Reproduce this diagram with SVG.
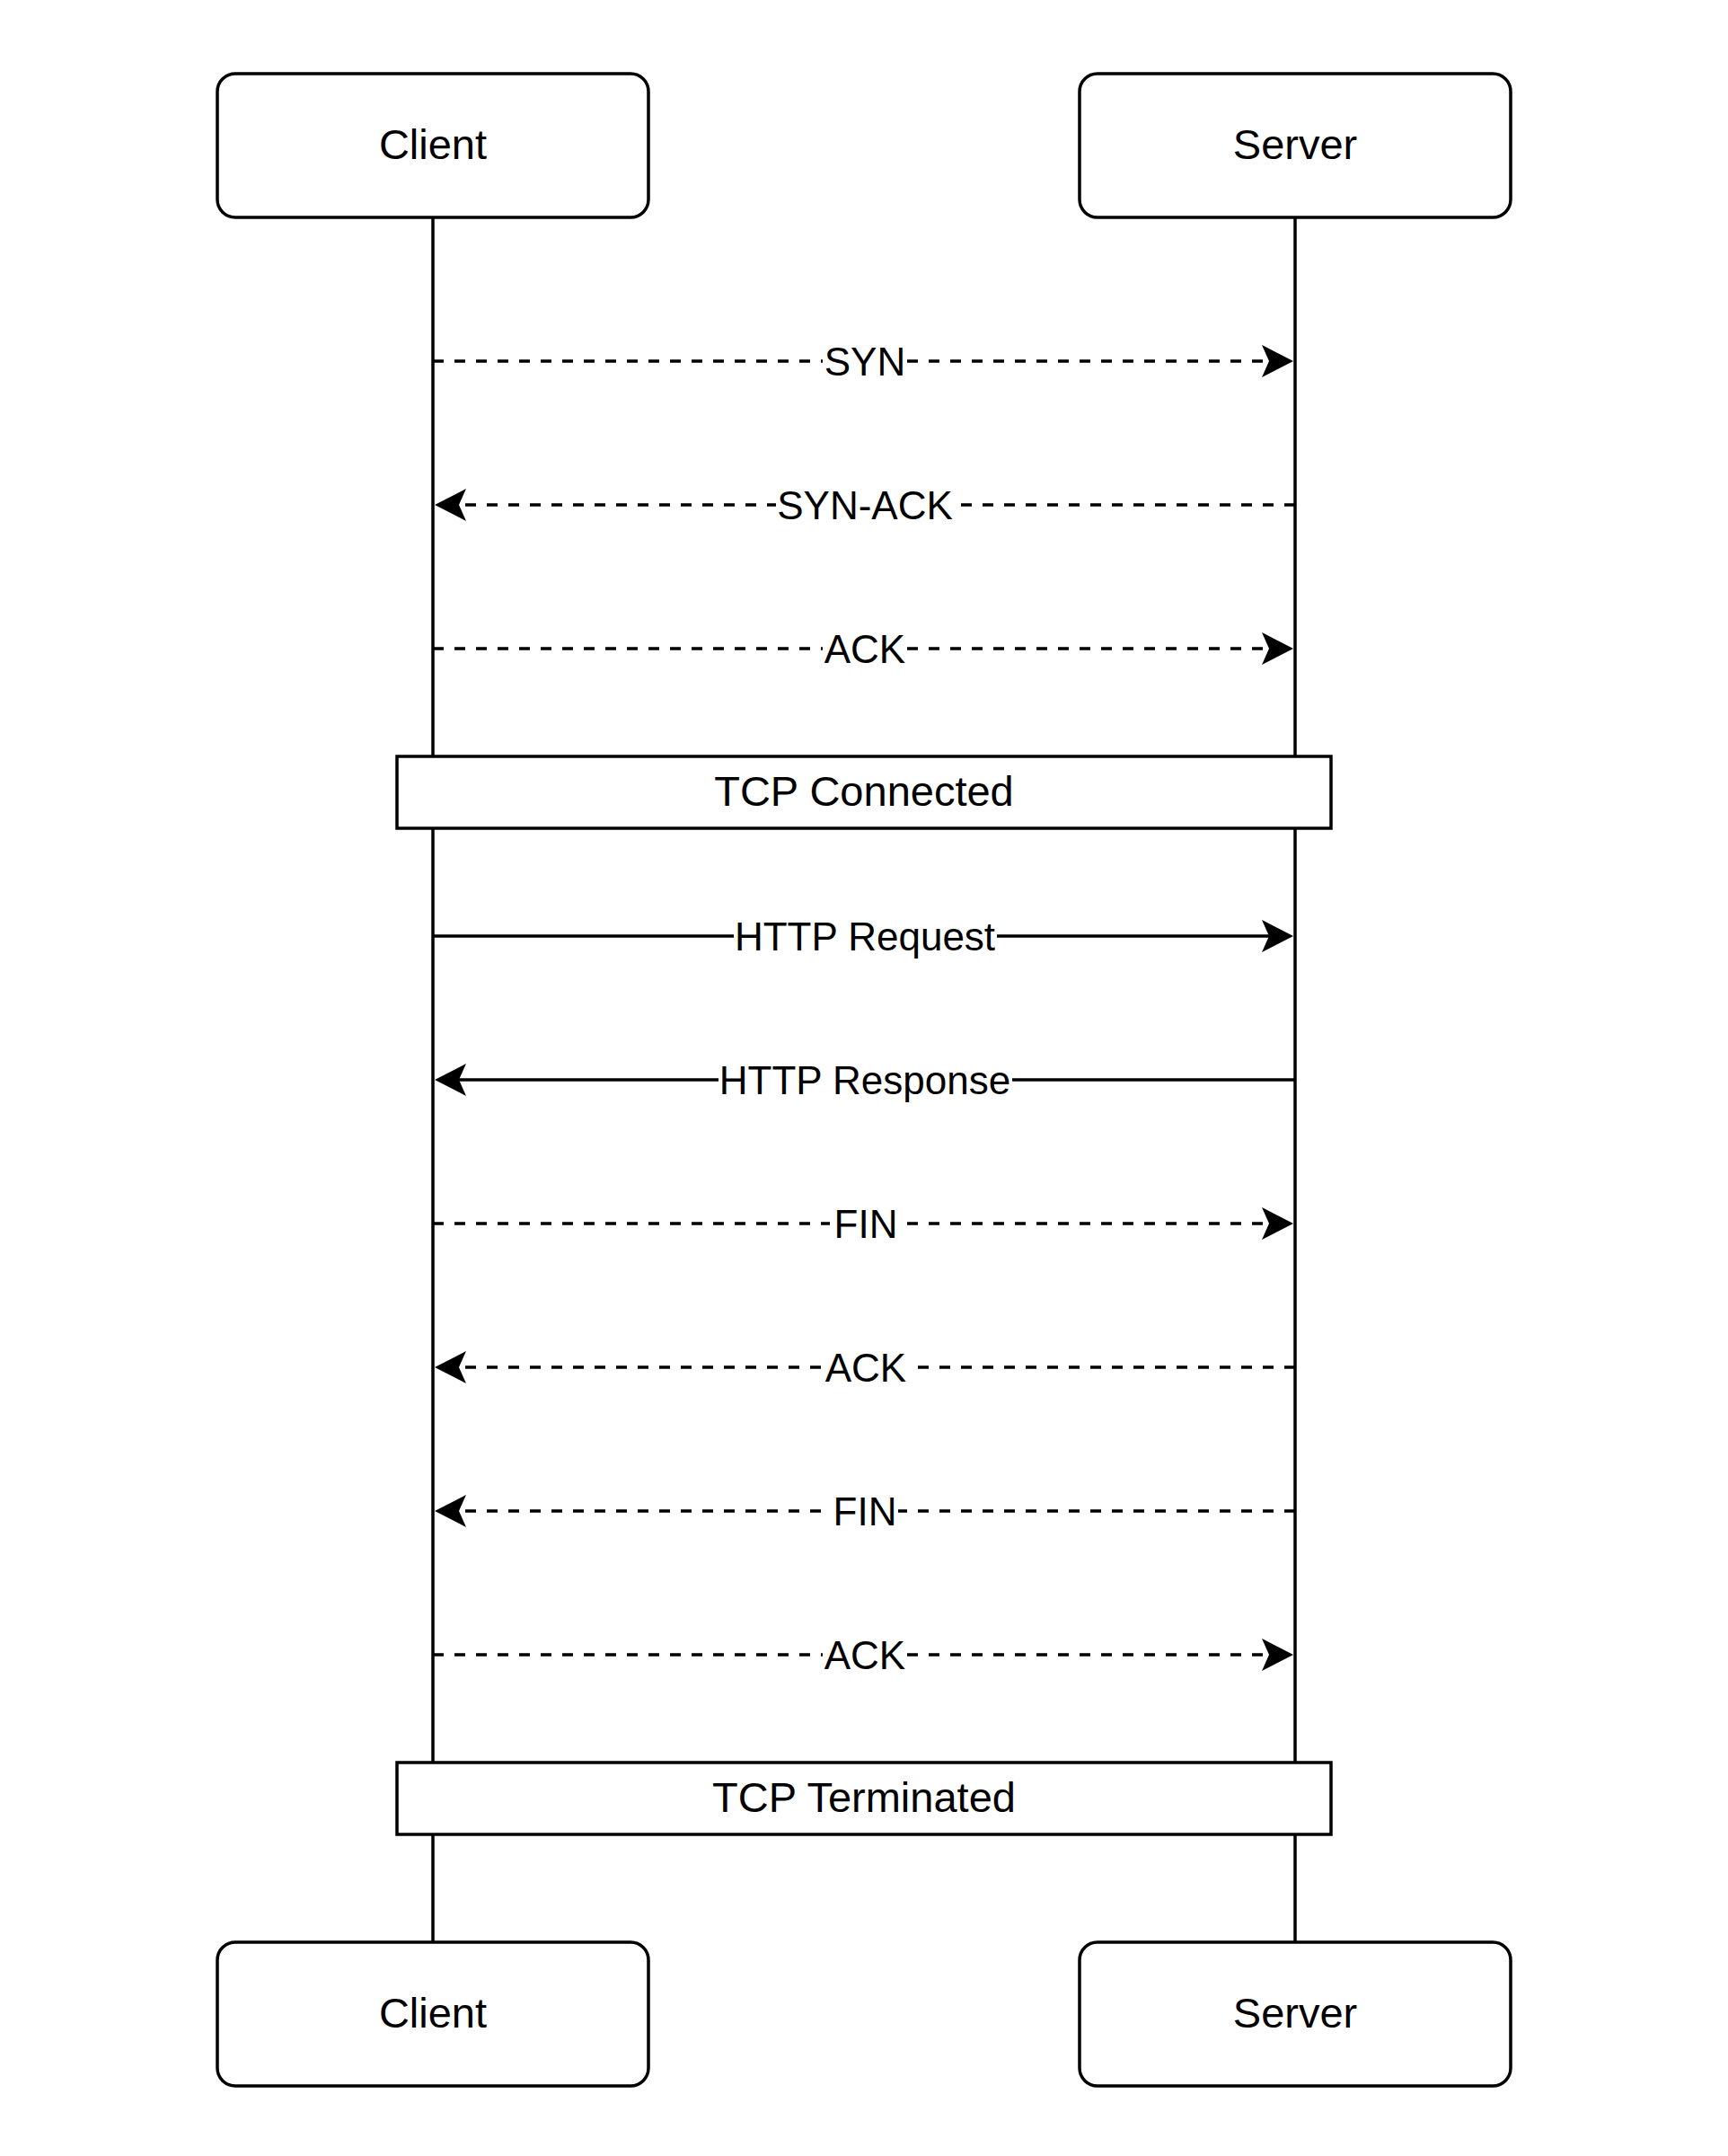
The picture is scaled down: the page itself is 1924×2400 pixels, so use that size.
<svg xmlns="http://www.w3.org/2000/svg" width="1924" height="2400" viewBox="0 0 1924 2400">
<style>
.bg{fill:#ffffff}
.actor{fill:#ffffff;stroke:#000000;stroke-width:3.5}
.state{fill:#ffffff;stroke:#000000;stroke-width:3.5}
.life{stroke:#000000;stroke-width:3.5;fill:none}
.msg{stroke:#000000;stroke-width:3.5;fill:none}
.dash{stroke-dasharray:12 12}
.lblbg{fill:#ffffff}
.t{font-family:"Liberation Sans",Arial,Helvetica,sans-serif;fill:#000000;text-anchor:middle}
.big{font-size:47px}
.lbl{font-size:44px}
</style>
<defs>
<marker id="arr" viewBox="0 -18 35 36" refX="8" refY="0" markerWidth="35" markerHeight="36" markerUnits="userSpaceOnUse" orient="auto">
<path d="M35,0 L0,-18 L8,0 L0,18 Z" fill="#000000"/>
</marker>
</defs>
<rect class="bg" x="0" y="0" width="1924" height="2400"/>
<g id="lifelines">
<line class="life" x1="482" y1="242" x2="482" y2="2162"/>
<line class="life" x1="1442" y1="242" x2="1442" y2="2162"/>
</g>
<g id="connectors">
<g id="msg-syn">
<line class="msg dash" x1="482" y1="402" x2="1413" y2="402" marker-end="url(#arr)"/>
<rect class="lblbg" x="916" y="378" width="94" height="48"/>
<text class="t lbl" x="963" y="418">SYN</text>
</g>
<g id="msg-synack">
<line class="msg dash" x1="1442" y1="562" x2="511" y2="562" marker-end="url(#arr)"/>
<rect class="lblbg" x="864" y="538" width="199" height="48"/>
<text class="t lbl" x="963" y="578">SYN-ACK</text>
</g>
<g id="msg-ack1">
<line class="msg dash" x1="482" y1="722" x2="1413" y2="722" marker-end="url(#arr)"/>
<rect class="lblbg" x="916" y="698" width="94" height="48"/>
<text class="t lbl" x="963" y="738">ACK</text>
</g>
<g id="msg-httpreq">
<line class="msg" x1="482" y1="1042" x2="1413" y2="1042" marker-end="url(#arr)"/>
<rect class="lblbg" x="817" y="1018" width="293" height="48"/>
<text class="t lbl" x="963" y="1058">HTTP Request</text>
</g>
<g id="msg-httpresp">
<line class="msg" x1="1442" y1="1202" x2="511" y2="1202" marker-end="url(#arr)"/>
<rect class="lblbg" x="800" y="1178" width="327" height="48"/>
<text class="t lbl" x="963" y="1218">HTTP Response</text>
</g>
<g id="msg-fin1">
<line class="msg dash" x1="482" y1="1362" x2="1413" y2="1362" marker-end="url(#arr)"/>
<rect class="lblbg" x="924" y="1338" width="86" height="48"/>
<text class="t lbl" x="964" y="1378">FIN</text>
</g>
<g id="msg-ack2">
<line class="msg dash" x1="1442" y1="1522" x2="511" y2="1522" marker-end="url(#arr)"/>
<rect class="lblbg" x="914" y="1498" width="106" height="48"/>
<text class="t lbl" x="964" y="1538">ACK</text>
</g>
<g id="msg-fin2">
<line class="msg dash" x1="1442" y1="1682" x2="511" y2="1682" marker-end="url(#arr)"/>
<rect class="lblbg" x="926" y="1658" width="74" height="48"/>
<text class="t lbl" x="963" y="1698">FIN</text>
</g>
<g id="msg-ack3">
<line class="msg dash" x1="482" y1="1842" x2="1413" y2="1842" marker-end="url(#arr)"/>
<rect class="lblbg" x="916" y="1818" width="94" height="48"/>
<text class="t lbl" x="963" y="1858">ACK</text>
</g>
</g>
<g id="client-top">
<rect class="actor" x="242" y="82" width="480" height="160" rx="20" ry="20"/>
<text class="t big" x="482" y="177">Client</text>
</g>
<g id="server-top">
<rect class="actor" x="1202" y="82" width="480" height="160" rx="20" ry="20"/>
<text class="t big" x="1442" y="177">Server</text>
</g>
<g id="tcp-connected">
<rect class="state" x="442" y="842" width="1040" height="80"/>
<text class="t big" x="962" y="897">TCP Connected</text>
</g>
<g id="tcp-terminated">
<rect class="state" x="442" y="1962" width="1040" height="80"/>
<text class="t big" x="962" y="2017">TCP Terminated</text>
</g>
<g id="client-bottom">
<rect class="actor" x="242" y="2162" width="480" height="160" rx="20" ry="20"/>
<text class="t big" x="482" y="2257">Client</text>
</g>
<g id="server-bottom">
<rect class="actor" x="1202" y="2162" width="480" height="160" rx="20" ry="20"/>
<text class="t big" x="1442" y="2257">Server</text>
</g>
</svg>
